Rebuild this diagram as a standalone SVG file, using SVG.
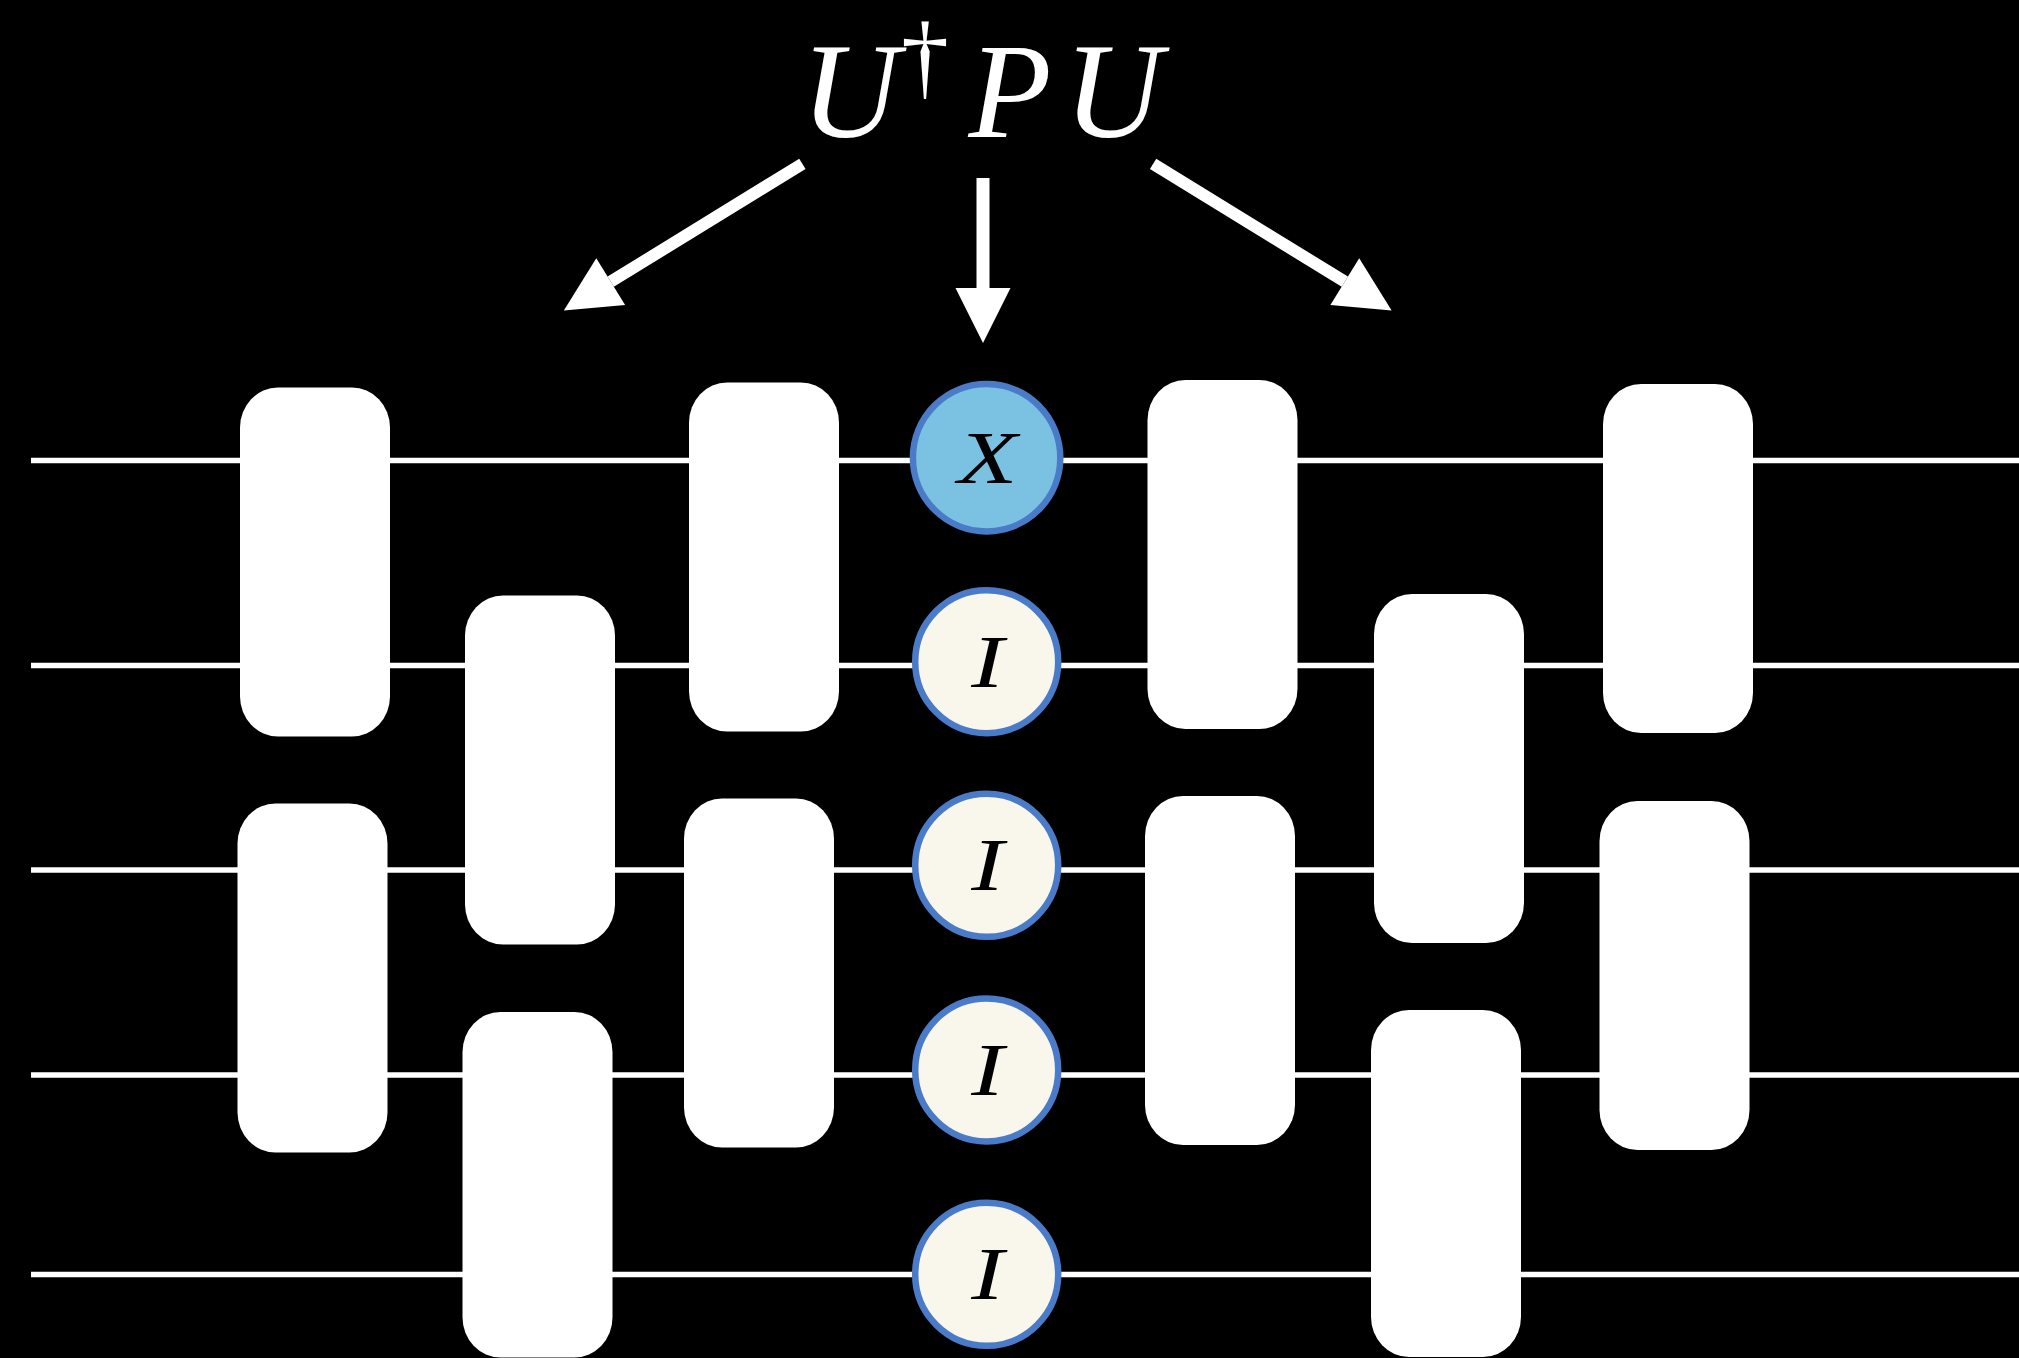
<svg xmlns="http://www.w3.org/2000/svg" width="2019" height="1358" viewBox="0 0 2019 1358">
<style>
.wire{stroke:#ffffff;stroke-width:5.6;fill:none}
.gate{fill:#ffffff}
.pauli{stroke:#4a7bc8;stroke-width:6.5}
.xf{fill:#7bc1e1}
.if{fill:#f9f7ec}
.lbl{font-family:"Liberation Serif",serif;font-style:italic;font-size:75px;fill:#000000;text-anchor:middle}
.title{font-family:"Liberation Serif",serif;font-style:italic;font-size:136px;fill:#ffffff;text-anchor:middle}
.arr{stroke:#ffffff;fill:none;stroke-linecap:butt}
</style>
<defs>
<marker id="head" markerUnits="userSpaceOnUse" markerWidth="56" markerHeight="56" viewBox="0 -28 56 56" refX="0" refY="0" orient="auto" overflow="visible">
<path d="M0,-27.5 L55,0 L0,27.5 Z" fill="#ffffff"/>
</marker>
</defs>
<rect x="0" y="0" width="2019" height="1358" fill="#000000"/>
<g id="wires">
<line class="wire" x1="31" y1="460.5" x2="2019" y2="460.5"/>
<line class="wire" x1="31" y1="665.5" x2="2019" y2="665.5"/>
<line class="wire" x1="31" y1="870" x2="2019" y2="870"/>
<line class="wire" x1="31" y1="1075" x2="2019" y2="1075"/>
<line class="wire" x1="31" y1="1274.5" x2="2019" y2="1274.5"/>
</g>
<g id="gate-A1"><rect class="gate" x="240" y="387.5" width="150" height="349" rx="38" ry="40"/></g>
<g id="gate-A2"><rect class="gate" x="237.5" y="803.5" width="150" height="349" rx="38" ry="40"/></g>
<g id="gate-B1"><rect class="gate" x="465" y="595.5" width="150" height="349" rx="38" ry="40"/></g>
<g id="gate-B2"><rect class="gate" x="462.5" y="1012" width="150" height="345.5" rx="38" ry="40"/></g>
<g id="gate-C1"><rect class="gate" x="689" y="382.5" width="150" height="349" rx="38" ry="40"/></g>
<g id="gate-C2"><rect class="gate" x="684" y="798.5" width="150" height="349" rx="38" ry="40"/></g>
<g id="gate-D1"><rect class="gate" x="1147.5" y="380" width="150" height="349" rx="38" ry="40"/></g>
<g id="gate-D2"><rect class="gate" x="1145" y="796" width="150" height="349" rx="38" ry="40"/></g>
<g id="gate-E1"><rect class="gate" x="1374" y="594" width="150" height="349" rx="38" ry="40"/></g>
<g id="gate-E2"><rect class="gate" x="1371" y="1010" width="150" height="347" rx="38" ry="40"/></g>
<g id="gate-F1"><rect class="gate" x="1603" y="384" width="150" height="349" rx="38" ry="40"/></g>
<g id="gate-F2"><rect class="gate" x="1599.5" y="801" width="150" height="349" rx="38" ry="40"/></g>
<g id="pauli-X"><circle class="pauli xf" cx="986.6" cy="457.7" r="73.7"/><text class="lbl" transform="translate(987.5,482.7) scale(1.3,1)" x="0" y="0">X</text></g>
<g id="pauli-I2"><circle class="pauli if" cx="986.7" cy="661.7" r="71.5"/><text class="lbl" transform="translate(987.5,686.7) scale(1.3,1)" x="0" y="0">I</text></g>
<g id="pauli-I3"><circle class="pauli if" cx="986.7" cy="865.3" r="71.5"/><text class="lbl" transform="translate(987.5,890.3) scale(1.3,1)" x="0" y="0">I</text></g>
<g id="pauli-I4"><circle class="pauli if" cx="986.7" cy="1069.9" r="71.5"/><text class="lbl" transform="translate(987.5,1094.9) scale(1.3,1)" x="0" y="0">I</text></g>
<g id="pauli-I5"><circle class="pauli if" cx="986.7" cy="1274.3" r="71.5"/><text class="lbl" transform="translate(987.5,1299.3) scale(1.3,1)" x="0" y="0">I</text></g>
<g id="title">
<text class="title"><tspan x="850" y="137">U</tspan><tspan x="925" y="88" font-style="normal" font-size="96">†</tspan><tspan x="1010" y="137">P</tspan><tspan x="1113" y="137">U</tspan></text>
</g>
<g id="connectors">
<line class="arr" stroke-width="12" x1="802.4" y1="163.8" x2="610.7" y2="281.7" marker-end="url(#head)"/>
<line class="arr" stroke-width="13" x1="983" y1="178" x2="983" y2="288" marker-end="url(#head)"/>
<line class="arr" stroke-width="12" x1="1153.1" y1="163.8" x2="1344.8" y2="281.7" marker-end="url(#head)"/>
</g>
</svg>
